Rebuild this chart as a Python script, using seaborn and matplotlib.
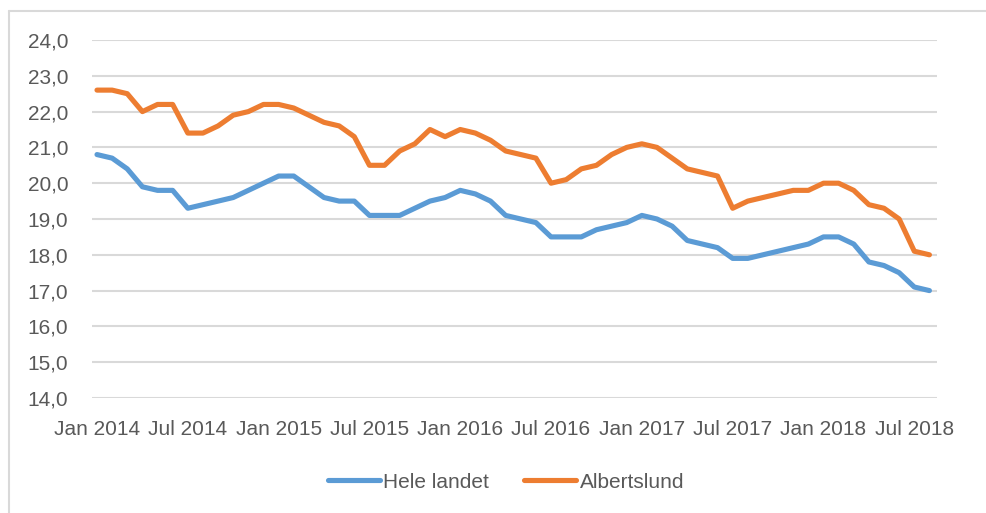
import numpy as np
import pandas as pd
import seaborn as sns
import matplotlib.pyplot as plt
from matplotlib.lines import Line2D
from matplotlib.ticker import FuncFormatter

# monthly values, Jan 2014 - Aug 2018
months = pd.date_range("2014-01-01", periods=56, freq="MS")
hele_landet = [
    20.8, 20.7, 20.4, 19.9, 19.8, 19.8, 19.3, 19.4, 19.5, 19.6, 19.8, 20.0,
    20.2, 20.2, 19.9, 19.6, 19.5, 19.5, 19.1, 19.1, 19.1, 19.3, 19.5, 19.6,
    19.8, 19.7, 19.5, 19.1, 19.0, 18.9, 18.5, 18.5, 18.5, 18.7, 18.8, 18.9,
    19.1, 19.0, 18.8, 18.4, 18.3, 18.2, 17.9, 17.9, 18.0, 18.1, 18.2, 18.3,
    18.5, 18.5, 18.3, 17.8, 17.7, 17.5, 17.1, 17.0,
]
albertslund = [
    22.6, 22.6, 22.5, 22.0, 22.2, 22.2, 21.4, 21.4, 21.6, 21.9, 22.0, 22.2,
    22.2, 22.1, 21.9, 21.7, 21.6, 21.3, 20.5, 20.5, 20.9, 21.1, 21.5, 21.3,
    21.5, 21.4, 21.2, 20.9, 20.8, 20.7, 20.0, 20.1, 20.4, 20.5, 20.8, 21.0,
    21.1, 21.0, 20.7, 20.4, 20.3, 20.2, 19.3, 19.5, 19.6, 19.7, 19.8, 19.8,
    20.0, 20.0, 19.8, 19.4, 19.3, 19.0, 18.1, 18.0,
]
series_names = ["Hele landet", "Albertslund"]
y_ticks = np.arange(14, 25, 1)

BLUE = "#5B9BD5"
ORANGE = "#ED7D31"
GRID = "#D9D9D9"
TEXT = "#595959"

sns.set_theme(style="white")
plt.rcParams["font.family"] = ["Liberation Sans", "DejaVu Sans"]

df = pd.DataFrame({"idx": np.arange(len(months)),
                   series_names[0]: hele_landet,
                   series_names[1]: albertslund})
long = df.melt(id_vars="idx", var_name="serie", value_name="value")

fig = plt.figure(figsize=(9.87, 5.13), dpi=100)
ax = fig.add_axes([92 / 987, 1 - 398 / 513, (937 - 92) / 987, (398 - 40) / 513])

sns.lineplot(long, x="idx", y="value", hue="serie", hue_order=series_names,
             palette=[BLUE, ORANGE], linewidth=3.7, ax=ax, legend=False,
             solid_capstyle="round", solid_joinstyle="round")

ax.set_ylim(14, 24)
ax.set_xlim(-0.33, 55.5)
ax.set_yticks(y_ticks)
ax.yaxis.set_major_formatter(FuncFormatter(lambda v, p: f"{v:.1f}".replace(".", ",")))
tick_pos = np.arange(0, len(months), 6)
ax.set_xticks(tick_pos)
ax.set_xticklabels([months[i].strftime("%b %Y") for i in tick_pos])
ax.grid(axis="y", color=GRID, linewidth=1.5)
ax.set_axisbelow(True)
for s in ax.spines.values():
    s.set_visible(False)
ax.tick_params(axis="both", length=0, labelsize=15, colors=TEXT)
ax.tick_params(axis="y", pad=17)
ax.tick_params(axis="x", pad=16)
ax.set_xlabel("")
ax.set_ylabel("")

handles = [Line2D([], [], color=BLUE, linewidth=3.7, solid_capstyle="round"),
           Line2D([], [], color=ORANGE, linewidth=3.7, solid_capstyle="round")]
leg = fig.legend(handles, series_names, loc="center", bbox_to_anchor=(506 / 987, 1 - 482 / 513),
                 ncol=2, frameon=False, fontsize=15, handlelength=2.5, handletextpad=0.15,
                 columnspacing=1.7)
for t in leg.get_texts():
    t.set_color(TEXT)

# outer chart frame (only top and left edges visible)
fig.add_artist(Line2D([9 / 987, 1], [1 - 11 / 513, 1 - 11 / 513], color=GRID, linewidth=1.5))
fig.add_artist(Line2D([9 / 987, 9 / 987], [0, 1 - 11 / 513], color=GRID, linewidth=1.5))

fig.savefig("out.png", dpi=100)
